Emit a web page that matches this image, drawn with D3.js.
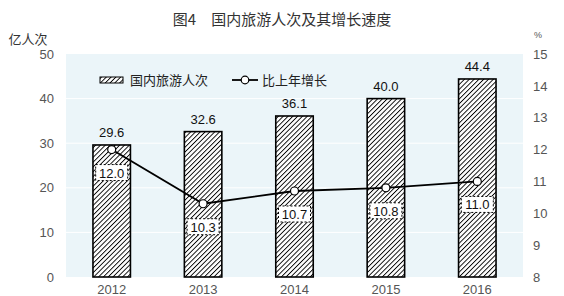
<!DOCTYPE html>
<html>
<head>
<meta charset="utf-8">
<script src="https://cdn.jsdelivr.net/npm/d3@7.9.0/dist/d3.min.js"></script>
<style>
  body { margin: 0; background: #fff; }
  svg { display: block; }
</style>
</head>
<body>
<div id="viz"></div>
<script>
// Data
const years = ["2012", "2013", "2014", "2015", "2016"];
const trips = [29.6, 32.6, 36.1, 40.0, 44.4];      // 亿人次
const growth = [12.0, 10.3, 10.7, 10.8, 11.0];     // %
const leftTicks = [0, 10, 20, 30, 40, 50];
const rightTicks = [8, 9, 10, 11, 12, 13, 14, 15];

const W = 564, H = 296;
const margin = {top: 54, right: 41, bottom: 19, left: 66};
const width = W - margin.left - margin.right,
      height = H - margin.top - margin.bottom;

const cjk = "'Noto Sans CJK SC', sans-serif";
const num = "'Liberation Sans', Arial, sans-serif";

const svg = d3.select("#viz").append("svg")
    .attr("width", W)
    .attr("height", H);

// hatch pattern
const defs = svg.append("defs");
const pat = defs.append("pattern")
    .attr("id", "hatch")
    .attr("patternUnits", "userSpaceOnUse")
    .attr("width", 3.4)
    .attr("height", 3.4)
    .attr("patternTransform", "rotate(45)");
pat.append("rect").attr("width", 3.4).attr("height", 3.4).attr("fill", "#fff");
pat.append("line")
    .attr("x1", 0).attr("y1", 0).attr("x2", 0).attr("y2", 3.4)
    .attr("stroke", "#000").attr("stroke-width", 1.8);

// title
svg.append("text")
    .attr("x", 282).attr("y", 25)
    .attr("text-anchor", "middle")
    .style("font-family", cjk)
    .style("font-size", "15px")
    .attr("fill", "#333")
    .text("图4　国内旅游人次及其增长速度");

const g = svg.append("g")
    .attr("transform", "translate(" + margin.left + "," + margin.top + ")");

const x = d3.scaleBand().domain(years).range([0, width]).paddingInner(0.59).paddingOuter(0.295);
const y = d3.scaleLinear().domain([0, 50]).range([height, 0]);
const y2 = d3.scaleLinear().domain([8, 15]).range([height, 0]);

// plot background
g.append("rect")
    .attr("width", width).attr("height", height)
    .attr("fill", "#EBF5F9");

// gridlines
g.selectAll(".grid").data(leftTicks.slice(1, -1))
  .join("line")
    .attr("x1", 0).attr("x2", width)
    .attr("y1", d => y(d)).attr("y2", d => y(d))
    .attr("stroke", "#fff").attr("stroke-width", 1);

// left axis
const axL = g.append("g")
    .call(d3.axisLeft(y).tickValues(leftTicks).tickSize(0).tickPadding(12));
axL.select(".domain").remove();
axL.selectAll("text")
    .style("font-family", num).style("font-size", "13px").attr("fill", "#555");

// right axis
const axR = g.append("g")
    .attr("transform", "translate(" + width + ",0)")
    .call(d3.axisRight(y2).tickValues(rightTicks).tickFormat(d3.format("d")).tickSize(0).tickPadding(10));
axR.select(".domain").remove();
axR.selectAll("text")
    .style("font-family", num).style("font-size", "13px").attr("fill", "#555");

// bottom axis
const axB = g.append("g")
    .attr("transform", "translate(0," + height + ")")
    .call(d3.axisBottom(x).tickSize(0).tickPadding(8));
axB.select(".domain").remove();
axB.selectAll("text")
    .style("font-family", num).style("font-size", "13px").attr("fill", "#555");

// axis unit labels
svg.append("text")
    .attr("x", 28).attr("y", 44)
    .attr("text-anchor", "middle")
    .style("font-family", cjk).style("font-size", "13px").attr("fill", "#333")
    .text("亿人次");
svg.append("text")
    .attr("x", 538).attr("y", 38)
    .attr("text-anchor", "middle")
    .style("font-family", num).style("font-size", "9px").attr("fill", "#555")
    .text("%");

// bars
g.selectAll(".bar").data(trips)
  .join("rect")
    .attr("x", (d, i) => x(years[i]))
    .attr("y", d => y(d))
    .attr("width", x.bandwidth())
    .attr("height", d => height - y(d))
    .attr("fill", "url(#hatch)")
    .attr("stroke", "#000")
    .attr("stroke-width", 1.6);

// bar value labels
g.selectAll(".barlab").data(trips)
  .join("text")
    .attr("x", (d, i) => x(years[i]) + x.bandwidth() / 2)
    .attr("y", d => y(d) - 8)
    .attr("text-anchor", "middle")
    .style("font-family", num).style("font-size", "13px").attr("fill", "#111")
    .text(d => d.toFixed(1));

// growth line
const cx = (d, i) => x(years[i]) + x.bandwidth() / 2;
g.append("path")
    .datum(growth)
    .attr("fill", "none")
    .attr("stroke", "#000")
    .attr("stroke-width", 1.8)
    .attr("d", d3.line().x(cx).y(d => y2(d)));

// growth labels with dashed white box
const lab = g.selectAll(".glab").data(growth)
  .join("g")
    .attr("transform", (d, i) => "translate(" + cx(d, i) + "," + (y2(d) + 23) + ")");
lab.append("rect")
    .attr("x", -16).attr("y", -8)
    .attr("width", 32).attr("height", 16)
    .attr("fill", "#fff")
    .attr("stroke", "#000")
    .attr("stroke-width", 1)
    .attr("stroke-dasharray", "2,2");
lab.append("text")
    .attr("y", 5)
    .attr("text-anchor", "middle")
    .style("font-family", num).style("font-size", "13px").attr("fill", "#111")
    .text(d => d.toFixed(1));

// points
g.selectAll(".pt").data(growth)
  .join("circle")
    .attr("cx", cx)
    .attr("cy", d => y2(d))
    .attr("r", 4)
    .attr("fill", "#fff")
    .attr("stroke", "#000")
    .attr("stroke-width", 1.2);

// legend
const leg = svg.append("g");
leg.append("rect")
    .attr("x", 100).attr("y", 77)
    .attr("width", 23).attr("height", 6)
    .attr("fill", "url(#hatch)")
    .attr("stroke", "#000").attr("stroke-width", 1);
leg.append("text")
    .attr("x", 130).attr("y", 85)
    .style("font-family", cjk).style("font-size", "13px").attr("fill", "#222")
    .text("国内旅游人次");
leg.append("line")
    .attr("x1", 232).attr("x2", 258)
    .attr("y1", 80).attr("y2", 80)
    .attr("stroke", "#000").attr("stroke-width", 1.8);
leg.append("circle")
    .attr("cx", 245).attr("cy", 80).attr("r", 3.8)
    .attr("fill", "#fff").attr("stroke", "#000").attr("stroke-width", 1.2);
leg.append("text")
    .attr("x", 262).attr("y", 85)
    .style("font-family", cjk).style("font-size", "13px").attr("fill", "#222")
    .text("比上年增长");
</script>
</body>
</html>
